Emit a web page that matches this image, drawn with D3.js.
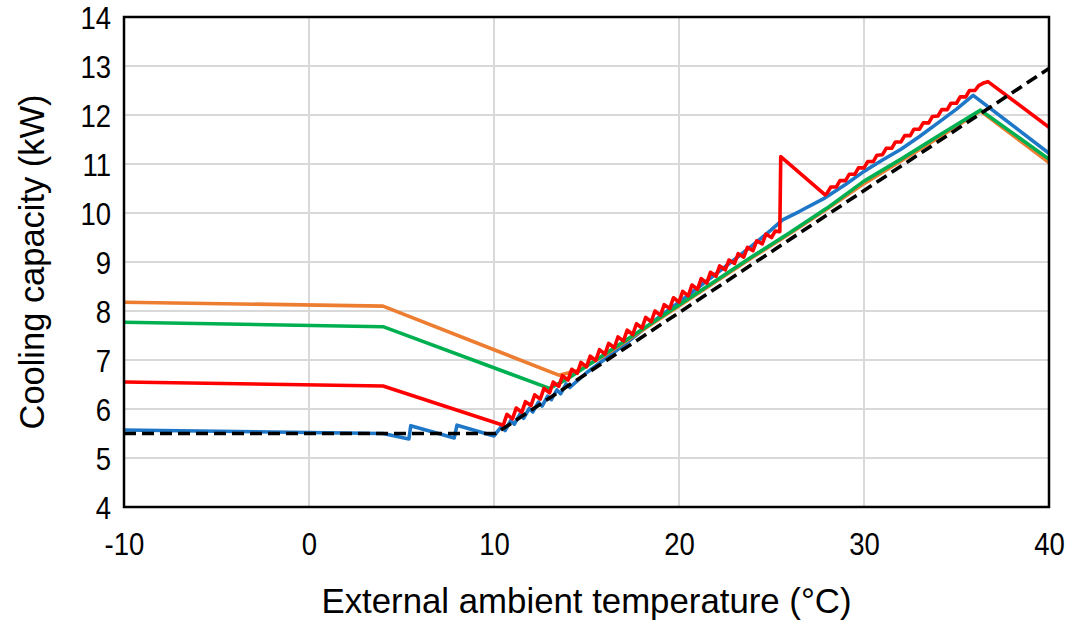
<!DOCTYPE html>
<html>
<head>
<meta charset="utf-8">
<script src="https://cdn.jsdelivr.net/npm/d3@7"></script>
<style>
  html, body { margin: 0; padding: 0; background: #fff; }
  svg { display: block; }
  text { font-family: "Liberation Sans Narrow", "Liberation Sans", "Open Sans", sans-serif; fill: #000; }
</style>
</head>
<body>
<svg id="chart" width="1069" height="622"></svg>
<script>
// ---------- data ----------
const xTicks = [-10, 0, 10, 20, 30, 40];
const yTicks = [4, 5, 6, 7, 8, 9, 10, 11, 12, 13, 14];
const xTitle = "External ambient temperature (°C)";
const yTitle = "Cooling capacity (kW)";

const blueSeries = [[-10,5.57],[4,5.5],[5.4,5.39],[5.5,5.66],[7.85,5.41],[8.0,5.67],[10.0,5.45],
  [10.4,5.64],[10.6,5.56],[10.9,5.76],[11.1,5.69],[11.4,5.89],[11.6,5.81],[11.9,6.01],[12.1,5.94],
  [12.4,6.14],[12.6,6.06],[12.9,6.26],[13.1,6.19],[13.4,6.39],[13.6,6.31],[13.9,6.51],[14.1,6.44],
  [15,6.74],[16,7.02],[17,7.3],[18,7.6],[19,7.9],[20,8.18],[21,8.47],[22,8.76],[23,9.05],[24,9.35],
  [25,9.66],[25.6,9.86],[26.5,10.03],[27.9,10.31],[29,10.58],[30,10.85],[31,11.08],[32,11.3],
  [33,11.56],[34,11.84],[35,12.12],[35.9,12.4],[40,11.22]];

const orangeSeries = [[-10,8.18],[4,8.1],[13.5,6.69],[14.5,6.78],[16,7.1],[18,7.6],[20,8.1],[22,8.6],
  [24,9.1],[26,9.58],[28,10.08],[30,10.6],[32,11.06],[34,11.53],[36.3,12.08],[40,11.03]];

const greenSeries = [[-10,7.77],[4,7.68],[13.0,6.42],[14,6.62],[16,7.12],[18,7.62],[20,8.12],[22,8.62],
  [24,9.12],[26,9.6],[28,10.1],[30,10.65],[32,11.1],[34,11.57],[36.3,12.1],[40,11.1]];

const redSeries = [[-10,6.55],[4,6.47],[10.5,5.67],
  [10.7,5.89],[11.0,5.80],[11.2,6.02],[11.5,5.93],[11.7,6.15],[12.0,6.07],[12.2,6.29],[12.5,6.20],
  [12.7,6.42],[13.0,6.33],[13.2,6.55],[13.5,6.46],[13.7,6.68],[14.0,6.59],[14.2,6.81],[14.5,6.73],
  [14.7,6.95],[15.0,6.86],[15.2,7.08],[15.5,6.99],[15.7,7.21],[16.0,7.12],[16.2,7.34],[16.5,7.25],
  [16.7,7.47],[17.0,7.39],[17.2,7.61],[17.5,7.52],[17.7,7.74],[18.0,7.65],[18.2,7.87],[18.5,7.78],
  [18.7,8.00],[19.0,7.91],[19.2,8.13],[19.5,8.05],[19.7,8.27],[20.0,8.18],[20.2,8.40],[20.5,8.31],
  [20.7,8.53],[21.0,8.44],[21.2,8.66],[21.5,8.57],[21.7,8.79],[22.0,8.71],[22.2,8.92],[22.5,8.84],
  [22.7,9.04],[23.0,8.97],[23.2,9.17],[23.5,9.10],[23.7,9.30],[24.0,9.23],[24.2,9.43],[24.5,9.37],
  [24.7,9.57],[25.0,9.50],[25.2,9.63],[25.45,9.62],[25.5,11.15],[27.9,10.37],
  [28.0,10.40],[28.2,10.53],[28.5,10.53],[28.7,10.66],[29.0,10.66],[29.2,10.79],[29.5,10.79],
  [29.7,10.92],[30.0,10.92],[30.2,11.05],[30.5,11.05],[30.7,11.18],[31.0,11.19],[31.2,11.32],
  [31.5,11.32],[31.7,11.45],[32.0,11.45],[32.2,11.58],[32.5,11.58],[32.7,11.71],[33.0,11.71],
  [33.2,11.84],[33.5,11.84],[33.7,11.97],[34.0,11.98],[34.2,12.11],[34.5,12.11],[34.7,12.24],
  [35.0,12.24],[35.2,12.37],[35.5,12.37],[35.7,12.50],[36.0,12.50],[36.2,12.60],[36.5,12.66],
  [36.7,12.68],[40,11.75]];

const blackSeries = [[-10,5.5],[10.1,5.5],[40,12.95]];

const seriesList = [
  { name: "blue",   data: blueSeries,   color: "#1F77C8", dash: null },
  { name: "orange", data: orangeSeries, color: "#ED7D31", dash: null },
  { name: "green",  data: greenSeries,  color: "#00B050", dash: null },
  { name: "red",    data: redSeries,    color: "#FF0000", dash: null },
  { name: "black",  data: blackSeries,  color: "#000000", dash: "12,6" }
];

// ---------- layout ----------
const plot = { left: 124, right: 1049, top: 17, bottom: 507 };
const FONT = '"Liberation Sans Narrow", "Liberation Sans", "Open Sans", sans-serif';

const svg = d3.select("#chart");
const x = d3.scaleLinear().domain([-10, 40]).range([plot.left, plot.right]);
const y = d3.scaleLinear().domain([4, 14]).range([plot.bottom, plot.top]);

// gridlines
const grid = svg.append("g");
grid.selectAll("line.gx").data(xTicks).enter().append("line")
  .attr("x1", d => x(d)).attr("x2", d => x(d))
  .attr("y1", plot.top).attr("y2", plot.bottom)
  .attr("stroke", "#D9D9D9").attr("stroke-width", 2);
grid.selectAll("line.gy").data(yTicks).enter().append("line")
  .attr("x1", plot.left).attr("x2", plot.right)
  .attr("y1", d => y(d)).attr("y2", d => y(d))
  .attr("stroke", "#D9D9D9").attr("stroke-width", 2);

// series
const line = d3.line().x(d => x(d[0])).y(d => y(d[1]));
svg.append("clipPath").attr("id", "clip").append("rect")
  .attr("x", plot.left).attr("y", plot.top)
  .attr("width", plot.right - plot.left).attr("height", plot.bottom - plot.top);
const lines = svg.append("g").attr("clip-path", "url(#clip)");
seriesList.forEach(s => {
  lines.append("path")
    .datum(s.data)
    .attr("d", line)
    .attr("fill", "none")
    .attr("stroke", s.color)
    .attr("stroke-width", 3.6)
    .attr("stroke-linejoin", "round")
    .attr("stroke-dasharray", s.dash);
});

// frame
svg.append("rect")
  .attr("x", plot.left).attr("y", plot.top)
  .attr("width", plot.right - plot.left).attr("height", plot.bottom - plot.top)
  .attr("fill", "none").attr("stroke", "#000").attr("stroke-width", 2.5);

// axes (labels only, via d3 axis)
const fmt = d => String(d);
const xAxis = d3.axisBottom(x).tickValues(xTicks).tickSize(0).tickPadding(0).tickFormat(fmt);
const gx = svg.append("g").attr("transform", `translate(0, ${plot.bottom})`).call(xAxis);
gx.select(".domain").remove();
gx.selectAll("text").attr("dy", null).attr("y", 48).attr("font-size", 32);

const yAxis = d3.axisLeft(y).tickValues(yTicks).tickSize(0).tickPadding(0).tickFormat(fmt);
const gy = svg.append("g").attr("transform", `translate(${plot.left - 13}, 0)`).call(yAxis);
gy.select(".domain").remove();
gy.selectAll("text").attr("x", 0).attr("dy", "0.35em").attr("font-size", 32);

svg.selectAll(".tick text")
  .attr("font-family", null)
  .style("font-family", FONT)
  .each(function() {
    const len = this.getComputedTextLength();
    d3.select(this).attr("textLength", (len * 0.86).toFixed(1)).attr("lengthAdjust", "spacingAndGlyphs");
  });

// titles
svg.append("text")
  .attr("x", (plot.left + plot.right) / 2).attr("y", 613)
  .attr("text-anchor", "middle").attr("font-size", 35)
  .attr("textLength", 530).attr("lengthAdjust", "spacingAndGlyphs")
  .text(xTitle);
svg.append("text")
  .attr("transform", `translate(44, ${(plot.top + plot.bottom) / 2}) rotate(-90)`)
  .attr("text-anchor", "middle").attr("font-size", 35)
  .attr("textLength", 335).attr("lengthAdjust", "spacingAndGlyphs")
  .text(yTitle);
</script>
</body>
</html>
